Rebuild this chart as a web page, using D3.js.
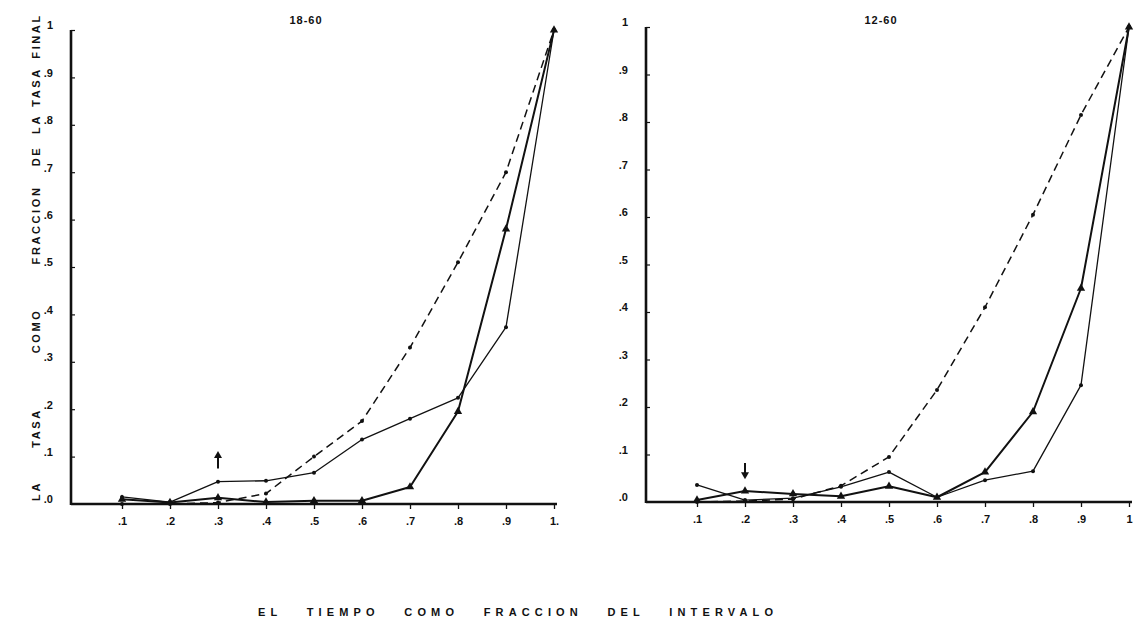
<!DOCTYPE html>
<html><head><meta charset="utf-8">
<script src="https://cdn.jsdelivr.net/npm/d3@7/dist/d3.min.js"></script>
<style>
html,body{margin:0;padding:0;background:#fff;}
svg{display:block;}
text{font-family:"Liberation Sans","DejaVu Sans",sans-serif;font-weight:bold;fill:#111;}
</style></head>
<body>
<svg id="chart" width="1143" height="635"></svg>
<script>
// ---- data ----
const timeFractions = [0.1,0.2,0.3,0.4,0.5,0.6,0.7,0.8,0.9,1.0];
const xTickValues = [0.1,0.2,0.3,0.4,0.5,0.6,0.7,0.8,0.9,1.0];
const xTickLabelsLeft = [".1",".2",".3",".4",".5",".6",".7",".8",".9","1."];
const xTickLabelsRight = [".1",".2",".3",".4",".5",".6",".7",".8",".9","1"];
const yTickValues = [0,0.1,0.2,0.3,0.4,0.5,0.6,0.7,0.8,0.9,1.0];
const yTickLabels = [".0",".1",".2",".3",".4",".5",".6",".7",".8",".9","1"];
const panelTitles = ["18-60","12-60"];

// panel 18-60
const left18Dashed = [0.000,0.000,0.003,0.022,0.100,0.175,0.330,0.510,0.700,1.0];
const left18Thin   = [0.015,0.004,0.047,0.049,0.066,0.136,0.180,0.224,0.373,1.0];
const left18Thick  = [0.010,0.003,0.013,0.004,0.007,0.007,0.036,0.195,0.580,1.0];
// panel 12-60
const right12Dashed = [0.000,0.002,0.006,0.034,0.095,0.236,0.410,0.605,0.815,1.0];
const right12Thin   = [0.036,0.004,0.008,0.032,0.063,0.010,0.046,0.065,0.246,1.0];
const right12Thick  = [0.004,0.023,0.017,0.012,0.033,0.010,0.063,0.190,0.450,1.0];

// arrows (time, value from, value to)
const arrowLeft = [0.3, 0.075, 0.112];
const arrowRight = [0.2, 0.082, 0.048];

const yTitleWords = ["LA","TASA","COMO","FRACCION","DE","LA","TASA","FINAL"];
const xTitle = "EL   TIEMPO   COMO   FRACCION   DEL   INTERVALO";

// ---- drawing ----
const svg = d3.select("#chart");

function drawPanel(p){
  const g = svg.append("g");
  const x = d3.scaleLinear().domain([0,1]).range([p.x0, p.x1]);
  const y = d3.scaleLinear().domain([0,1]).range([p.y0, p.y1]);

  const xa = g.append("g").attr("transform",`translate(0,${p.y0})`)
    .call(d3.axisBottom(x).tickValues(xTickValues)
      .tickFormat((d,i)=>p.xLabels[i]).tickSizeInner(5).tickSizeOuter(0).tickPadding(8));
  xa.select(".domain").attr("d",`M${p.axisX},0H${x(1)+3}`).attr("stroke","#111").attr("stroke-width",2.6);
  xa.selectAll(".tick line").attr("stroke","#111").attr("stroke-width",1.3);
  xa.selectAll(".tick text").style("font-size","11px").attr("fill","#111");

  const ya = g.append("g").attr("transform",`translate(${p.axisX},0)`)
    .call(d3.axisLeft(y).tickValues(yTickValues)
      .tickFormat((d,i)=>yTickLabels[i]).tickSizeInner(-4).tickSizeOuter(0).tickPadding(18));
  ya.select(".domain").attr("d",`M0,${p.y0+1}V${y(1)}`).attr("stroke","#111").attr("stroke-width",2.6);
  ya.selectAll(".tick line").attr("stroke","#111").attr("stroke-width",1.2);
  ya.selectAll(".tick text").style("font-size","11px").attr("fill","#111").attr("dy","-0.1em");
  ya.selectAll(".tick").filter(d=>d===0).select("line").remove();

  g.append("text").attr("x",(x(0)+x(1))/2-8).attr("y",24).attr("text-anchor","middle")
    .style("font-size","11px").style("letter-spacing","1px").text(p.title);

  const line = d3.line().x(d=>x(d.t)).y(d=>y(d.v));
  const toPts = arr => arr.map((v,i)=>({t:timeFractions[i], v}));

  p.series.forEach(s=>{
    const pts = toPts(s.values);
    g.append("path").datum(pts).attr("d",line).attr("fill","none")
      .attr("stroke","#111").attr("stroke-width",s.width)
      .attr("stroke-dasharray",s.dash||null).attr("stroke-linejoin","round");
    if(s.marker==="tri"){
      g.selectAll(null).data(pts).enter().append("path")
        .attr("d",d3.symbol(d3.symbolTriangle).size(30)())
        .attr("transform",d=>`translate(${x(d.t)},${y(d.v)})`).attr("fill","#111");
    } else {
      g.selectAll(null).data(pts).enter().append("circle")
        .attr("cx",d=>x(d.t)).attr("cy",d=>y(d.v)).attr("r",2.0).attr("fill","#111");
    }
  });

  const a = p.arrow;
  const ax = x(a[0]), ya1 = y(a[1]), ya2 = y(a[2]);
  const dir = Math.sign(ya2-ya1);
  g.append("line").attr("x1",ax).attr("x2",ax).attr("y1",ya1).attr("y2",ya2-dir*5)
    .attr("stroke","#111").attr("stroke-width",2);
  g.append("path").attr("d",`M${ax},${ya2}L${ax-4},${ya2-dir*7}L${ax+4},${ya2-dir*7}Z`).attr("fill","#111");
}

drawPanel({x0:74,x1:554,axisX:71,y0:504,y1:30,title:panelTitles[0],xLabels:xTickLabelsLeft,
  arrow:arrowLeft,
  series:[
    {values:left18Dashed,width:1.5,dash:"8,5",marker:"dot"},
    {values:left18Thin,width:1.3,marker:"dot"},
    {values:left18Thick,width:2,marker:"tri"}
  ]});
drawPanel({x0:649,x1:1129,axisX:646,y0:502,y1:27,title:panelTitles[1],xLabels:xTickLabelsRight,
  arrow:arrowRight,
  series:[
    {values:right12Dashed,width:1.5,dash:"8,5",marker:"dot"},
    {values:right12Thin,width:1.3,marker:"dot"},
    {values:right12Thick,width:2,marker:"tri"}
  ]});

// y title (rotated), word centres along the axis (bottom -> top)
const yWordPos = [491,428,331,225,156,124,87,36];
yTitleWords.forEach((w,i)=>{
  svg.append("text").attr("transform",`translate(40,${yWordPos[i]}) rotate(-90)`)
    .attr("text-anchor","middle").style("font-size","11px").style("letter-spacing","2.6px").text(w);
});
// x title
svg.append("text").attr("x",258).attr("y",616).style("font-size","11px")
  .style("white-space","pre").attr("textLength",515).attr("lengthAdjust","spacing").text(xTitle);
</script>
</body></html>
